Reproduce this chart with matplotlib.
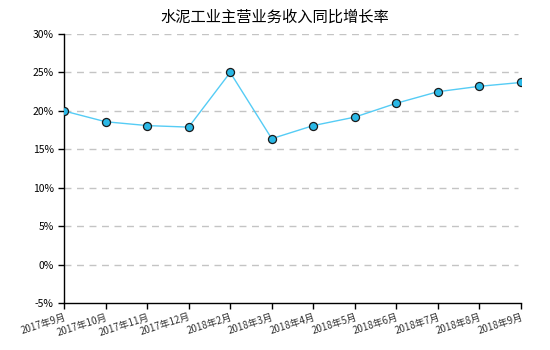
import matplotlib.pyplot as plt
from matplotlib.ticker import FuncFormatter

plt.rcParams['font.family'] = ['Noto Sans CJK SC', 'DejaVu Sans']

months = ["2017年9月", "2017年10月", "2017年11月", "2017年12月", "2018年2月", "2018年3月",
          "2018年4月", "2018年5月", "2018年6月", "2018年7月", "2018年8月", "2018年9月"]
growth = [20.0, 18.6, 18.1, 17.9, 25.0, 16.4, 18.1, 19.2, 21.0, 22.5, 23.2, 23.7]

fig = plt.figure(figsize=(5.5, 3.5), dpi=100)
ax = fig.add_axes([0.1164, 0.133, 0.8309, 0.770])

x = range(len(months))
ax.plot(x, growth, color="#55ccf5", linewidth=1, marker="o", markersize=5.8,
        markerfacecolor="#2ab8e6", markeredgecolor="#1a1a1a", markeredgewidth=0.9, zorder=3)

ax.set_xlim(0, len(months) - 1)
ax.set_ylim(-5, 30)
ax.set_yticks(range(-5, 31, 5))
ax.yaxis.set_major_formatter(FuncFormatter(lambda v, p: f"{v:.0f}%"))
ax.set_xticks(list(x))
ax.set_xticklabels(months, rotation=18, ha="right", rotation_mode="anchor", fontsize=7, color="#333333")
ax.tick_params(axis="y", labelsize=7.5, length=4, width=1)
ax.tick_params(axis="x", length=4, width=1, pad=2)

for v in range(0, 31, 5):
    ax.axhline(v, xmax=0.993, color="#c4c4c4", linestyle=(0, (5, 4)), linewidth=1, zorder=1)

for s in ["top", "right"]:
    ax.spines[s].set_visible(False)
ax.spines["left"].set_linewidth(1)
ax.spines["bottom"].set_linewidth(1)

fig.suptitle("水泥工业主营业务收入同比增长率", fontsize=11, y=0.975)

fig.savefig("out.png", dpi=100)
